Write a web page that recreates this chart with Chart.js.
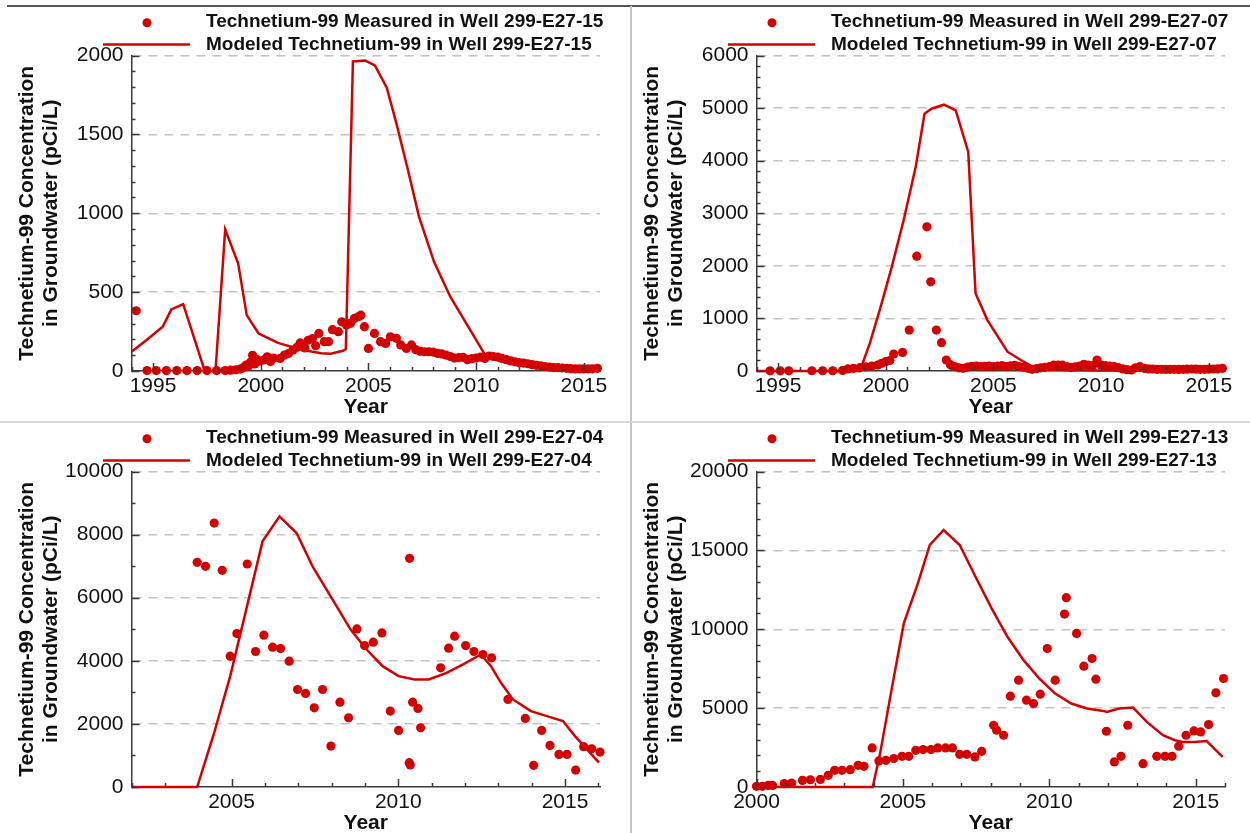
<!DOCTYPE html>
<html>
<head>
<meta charset="utf-8">
<title>Technetium-99 in Groundwater</title>
<script src="https://cdn.jsdelivr.net/npm/chart.js@4.4.1/dist/chart.umd.min.js"></script>
<style>
  html, body { margin: 0; padding: 0; background: #fff; }
  #sheet { position: relative; width: 1250px; height: 833px; overflow: hidden; }
  #sheet canvas { position: absolute; }
  .rule { position: absolute; }
</style>
</head>
<body>
<div id="sheet">
  <canvas id="c1" width="625" height="416" style="left:0;top:0"></canvas>
  <canvas id="c2" width="625" height="416" style="left:625px;top:0"></canvas>
  <canvas id="c3" width="625" height="416" style="left:0;top:416px"></canvas>
  <canvas id="c4" width="625" height="416" style="left:625px;top:416px"></canvas>
  <div class="rule" style="left:7px;top:5px;width:1243px;height:2px;background:#555"></div>
  <div class="rule" style="left:630px;top:6px;width:2px;height:827px;background:#c4c4c4"></div>
  <div class="rule" style="left:0;top:421px;width:1250px;height:2px;background:#d6d6d6"></div>
</div>
<script>
// well names, one per panel
const wells = ['299-E27-15', '299-E27-07', '299-E27-04', '299-E27-13'];

// ---- 299-E27-15 ----
const p1MeasYear = [1994.22, 1994.72, 1995.15, 1995.62, 1996.1, 1996.57, 1997.05, 1997.5, 1997.95, 1998.35,
  1998.6, 1998.85, 1999.05, 1999.2, 1999.32, 1999.42, 1999.52, 1999.62, 1999.72, 1999.82, 1999.95,
  2000.15, 2000.3, 2000.45, 2000.6, 2000.9, 2001.1, 2001.3, 2001.5, 2001.68, 2001.83, 2002.05, 2002.2,
  2002.4, 2002.55, 2002.7, 2002.95, 2003.15, 2003.33, 2003.6, 2003.76, 2003.98, 2004.17, 2004.35,
  2004.55, 2004.65, 2004.81, 2005.0, 2005.28, 2005.56, 2005.8, 2006.02, 2006.3, 2006.5, 2006.76,
  2007.0, 2007.2, 2007.4, 2007.6, 2007.8, 2008.0, 2008.2, 2008.4, 2008.6, 2008.8, 2009.0, 2009.2,
  2009.4, 2009.6, 2009.8, 2010.0, 2010.2, 2010.4, 2010.6, 2010.8, 2011.0, 2011.2, 2011.4, 2011.6,
  2011.8, 2012.0, 2012.2, 2012.4, 2012.6, 2012.8, 2013.0, 2013.2, 2013.4, 2013.6, 2013.8, 2014.0,
  2014.2, 2014.4, 2014.6, 2014.8, 2015.0, 2015.2, 2015.4, 2015.63];
const p1MeasVal = [382, 3, 3, 3, 3, 3, 3, 3, 3, 3,
  5, 8, 12, 22, 38, 30, 55, 100, 45, 72, 62,
  70, 90, 60, 82, 80, 101, 112, 133, 150, 178, 146, 195,
  205, 160, 238, 186, 186, 262, 249, 312, 291, 302, 333,
  345, 354, 281, 143, 238, 186, 175, 217, 207, 165, 143,
  165, 135, 125, 122, 122, 120, 112, 108, 101, 92, 82, 85,
  86, 72, 78, 82, 88, 80, 95, 92, 88, 80, 72, 64,
  58, 53, 50, 46, 40, 36, 33, 28, 25, 22, 21, 19,
  17, 15, 13, 13, 13, 13, 14, 17];
const p1ModelYear = [1994.0, 1994.7, 1995.45, 1995.85, 1996.4, 1997.4, 1997.9, 1998.35, 1998.95, 1999.35,
  1999.9, 2000.8, 2001.9, 2002.8, 2003.25, 2003.85, 2003.95, 2004.28, 2004.85, 2005.3, 2005.85, 2006.3,
  2006.8, 2007.35, 2008.05, 2008.8, 2009.7, 2010.4, 2010.7, 2011.5, 2012.5, 2013.5, 2014.5, 2015.7];
const p1ModelVal = [122, 196, 281, 390, 424, 0, 0, 897, 682, 354,
  238, 178, 135, 112, 110, 130, 140, 1962, 1968, 1937, 1796, 1568,
  1293, 977, 690, 471, 265, 105, 80, 55, 35, 22, 14, 10];
const p1XTicks = [1995, 2000, 2005, 2010, 2015];
const p1YTicks = [0, 500, 1000, 1500, 2000];

// ---- 299-E27-07 ----
const p2MeasYear = [1994.63, 1995.1, 1995.5, 1996.57, 1997.07, 1997.54, 1998.0, 1998.24, 1998.5, 1998.8,
  1999.07, 1999.35, 1999.63, 1999.81, 2000.0, 2000.19, 2000.37, 2000.78, 2001.09, 2001.44, 2001.91,
  2002.09, 2002.35, 2002.59, 2002.81, 2003.0, 2003.2, 2003.4, 2003.6, 2003.8, 2004.0, 2004.2, 2004.4,
  2004.6, 2004.8, 2005.0, 2005.2, 2005.4, 2005.6, 2005.8, 2006.0, 2006.2, 2006.4, 2006.6, 2006.8,
  2007.0, 2007.2, 2007.4, 2007.6, 2007.8, 2008.0, 2008.2, 2008.4, 2008.6, 2008.8, 2009.0, 2009.2,
  2009.4, 2009.6, 2009.81, 2010.0, 2010.2, 2010.4, 2010.6, 2010.8, 2011.0, 2011.2, 2011.4, 2011.6,
  2011.8, 2012.0, 2012.2, 2012.4, 2012.6, 2012.8, 2013.0, 2013.2, 2013.4, 2013.6, 2013.8, 2014.0,
  2014.2, 2014.4, 2014.6, 2014.8, 2015.0, 2015.2, 2015.4, 2015.63];
const p2MeasVal = [3, 3, 3, 5, 5, 5, 10, 40, 50, 63,
  80, 95, 114, 146, 177, 200, 323, 354, 779, 2184, 2741,
  1696, 779, 538, 209, 120, 85, 60, 51, 75, 90, 95, 82,
  90, 95, 82, 95, 101, 82, 100, 108, 82, 70, 50, 32,
  45, 60, 70, 82, 110, 114, 110, 82, 65, 80, 95, 125,
  110, 101, 209, 114, 101, 95, 82, 63, 40, 25, 19, 60,
  82, 51, 40, 38, 32, 32, 30, 32, 32, 30, 32, 34,
  38, 34, 32, 32, 34, 38, 40, 51];
const p2ModelYear = [1994.0, 1998.8, 1999.26, 1999.72, 2000.28, 2000.83, 2001.39, 2001.8, 2002.13, 2002.7,
  2003.25, 2003.83, 2004.17, 2004.72, 2005.65, 2006.4, 2006.95, 2007.5, 2010.0, 2015.7];
const p2ModelVal = [0, 0, 525, 1158, 1981, 2868, 3880, 4893, 4988, 5064,
  4956, 4165, 1475, 968, 367, 177, 51, 19, 10, 5];
const p2XTicks = [1995, 2000, 2005, 2010, 2015];
const p2YTicks = [0, 1000, 2000, 3000, 4000, 5000, 6000];

// ---- 299-E27-04 ----
const p3MeasYear = [2003.97, 2004.22, 2004.48, 2004.72, 2004.96, 2005.16, 2005.47, 2005.72, 2005.97, 2006.23,
  2006.47, 2006.73, 2006.98, 2007.22, 2007.48, 2007.73, 2007.98, 2008.25, 2008.51, 2008.76, 2008.99,
  2009.25, 2009.51, 2009.76, 2010.01, 2010.34, 2010.33, 2010.36, 2010.43, 2010.59, 2010.67, 2011.27,
  2011.51, 2011.69, 2012.02, 2012.27, 2012.54, 2012.8, 2013.29, 2013.81, 2014.06, 2014.3, 2014.55,
  2014.82, 2015.06, 2015.32, 2015.56, 2015.8, 2016.05];
const p3MeasVal = [7121, 6995, 8366, 6868, 4146, 4864, 7068, 4294, 4811, 4431,
  4389, 3988, 3091, 2965, 2511, 3091, 1298, 2690, 2194, 5011, 4484,
  4589, 4885, 2405, 1793, 7248, 770, 700, 2690, 2490, 1878, 3777,
  4400, 4779, 4484, 4294, 4199, 4093, 2775, 2173, 686, 1793, 1319,
  1034, 1034, 538, 1277, 1213, 1108];
const p3ModelYear = [2002.0, 2003.97, 2004.48, 2004.96, 2005.44, 2005.93, 2006.44, 2006.95, 2007.43, 2008.09,
  2008.57, 2009.05, 2009.53, 2010.01, 2010.49, 2010.91, 2011.45, 2011.93, 2012.48, 2012.78, 2013.08,
  2013.44, 2013.98, 2014.46, 2014.94, 2015.3, 2015.66, 2016.02];
const p3ModelVal = [0, 0, 1720, 3513, 5623, 7786, 8577, 8050, 6995, 5834,
  4990, 4357, 3830, 3513, 3408, 3408, 3619, 3882, 4199, 3830, 3302,
  2775, 2405, 2247, 2089, 1614, 1192, 770];
const p3XTicks = [2005, 2010, 2015];
const p3YTicks = [0, 2000, 4000, 6000, 8000, 10000];

// ---- 299-E27-13 ----
const p4MeasYear = [2000.0, 2000.2, 2000.4, 2000.55, 2000.95, 2001.2, 2001.57, 2001.84, 2002.18, 2002.45,
  2002.67, 2002.92, 2003.2, 2003.47, 2003.67, 2003.95, 2004.18, 2004.42, 2004.69, 2004.97, 2005.2,
  2005.44, 2005.69, 2005.96, 2006.19, 2006.46, 2006.69, 2006.94, 2007.18, 2007.46, 2007.69, 2008.1,
  2008.2, 2008.44, 2008.67, 2008.95, 2009.22, 2009.46, 2009.69, 2009.93, 2010.2, 2010.52, 2010.58,
  2010.93, 2011.18, 2011.46, 2011.59, 2011.95, 2012.22, 2012.45, 2012.68, 2013.2, 2013.67, 2013.95,
  2014.19, 2014.42, 2014.67, 2014.94, 2015.17, 2015.44, 2015.69, 2015.95];
const p4MeasVal = [40, 40, 100, 100, 220, 250, 420, 460, 480, 740,
  1060, 1060, 1100, 1375, 1312, 2476, 1650, 1693, 1799, 1947, 1947,
  2328, 2370, 2370, 2476, 2476, 2476, 2074, 2074, 1904, 2264, 3915,
  3597, 3280, 5756, 6771, 5502, 5290, 5883, 8781, 6771, 10961, 12000,
  9734, 7660, 8147, 6835, 3534, 1587, 1947, 3915, 1481, 1947, 1947,
  1947, 2582, 3280, 3555, 3491, 3957, 5967, 6877];
const p4ModelYear = [2000.0, 2003.97, 2004.22, 2004.63, 2005.03, 2005.51, 2005.92, 2006.39, 2006.94, 2007.48,
  2008.03, 2008.57, 2009.12, 2009.66, 2010.2, 2010.75, 2011.29, 2011.84, 2011.97, 2012.38, 2012.86,
  2013.33, 2013.88, 2014.29, 2014.56, 2014.97, 2015.37, 2015.92];
const p4ModelVal = [0, 0, 2116, 6348, 10368, 12908, 15341, 16293, 15341, 13331,
  11321, 9522, 8041, 6877, 5925, 5290, 4973, 4824, 4761, 4973, 5036,
  4126, 3280, 2962, 2857, 2857, 2920, 1904];
const p4XTicks = [2000, 2005, 2010, 2015];
const p4YTicks = [0, 5000, 10000, 15000, 20000];

const RED = '#d40000';
const AXIS = '#3a3a3a';
const GRID = '#c2c2c2';
const FONT = '"Liberation Sans", Arial, Helvetica, sans-serif';

Chart.defaults.font.family = FONT;
Chart.defaults.color = '#111';

function pairs(xs, ys) {
  return xs.map((x, i) => ({ x: x, y: ys[i] }));
}

// inward major/minor tick marks plus the two-row key above the plot
const decor = {
  id: 'decor',
  afterDraw(chart, args, o) {
    const ctx = chart.ctx;
    const xs = chart.scales.x, ys = chart.scales.y;
    const area = chart.chartArea;
    ctx.save();
    ctx.strokeStyle = AXIS;
    ctx.lineWidth = 1.5;
    ctx.beginPath();
    const xMajor = xs.ticks.map(t => t.value);
    for (let k = Math.ceil(xs.min / o.xMinor); k * o.xMinor <= xs.max + 1e-9; k++) {
      const v = k * o.xMinor;
      const len = xMajor.some(m => Math.abs(m - v) < 1e-6) ? 8 : 4;
      const px = Math.round(xs.getPixelForValue(v)) + 0.5;
      ctx.moveTo(px, area.bottom);
      ctx.lineTo(px, area.bottom - len);
    }
    const yMajor = ys.ticks.map(t => t.value);
    for (let k = Math.ceil(ys.min / o.yMinor); k * o.yMinor <= ys.max + 1e-9; k++) {
      const v = k * o.yMinor;
      const len = yMajor.some(m => Math.abs(m - v) < 1e-6) ? 8 : 4;
      const py = Math.round(ys.getPixelForValue(v)) + 0.5;
      ctx.moveTo(area.left, py);
      ctx.lineTo(area.left + len, py);
    }
    ctx.stroke();

    // key
    ctx.fillStyle = RED;
    ctx.beginPath();
    ctx.arc(147, 22.7, 4.5, 0, Math.PI * 2);
    ctx.fill();
    ctx.strokeStyle = RED;
    ctx.lineWidth = 2.5;
    ctx.beginPath();
    ctx.moveTo(103, 44.5);
    ctx.lineTo(190, 44.5);
    ctx.stroke();
    ctx.fillStyle = '#111';
    ctx.font = 'bold 19px ' + FONT;
    ctx.textAlign = 'left';
    ctx.textBaseline = 'middle';
    ctx.fillText(o.meas, 206, 22);
    ctx.fillText(o.model, 206, 45);
    ctx.restore();
  }
};

function buildPanel(id, well, measX, measY, modelX, modelY, xMin, xMax, xTicks, yTicks, xMinor, yMinor) {
  return new Chart(document.getElementById(id), {
    type: 'scatter',
    data: {
      datasets: [
        {
          label: 'Technetium-99 Measured in Well ' + well,
          data: pairs(measX, measY),
          pointRadius: 4.6,
          pointBackgroundColor: RED,
          pointBorderWidth: 0,
          showLine: false,
          clip: false
        },
        {
          label: 'Modeled Technetium-99 in Well ' + well,
          data: pairs(modelX, modelY),
          showLine: true,
          pointRadius: 0,
          borderColor: RED,
          borderWidth: 2.5,
          tension: 0,
          fill: false,
          clip: false
        }
      ]
    },
    options: {
      responsive: false,
      animation: false,
      events: [],
      layout: { padding: { left: 0, top: 55.5, right: 25, bottom: 0 } },
      plugins: {
        legend: { display: false },
        tooltip: { enabled: false },
        decor: {
          xMinor: xMinor,
          yMinor: yMinor,
          meas: 'Technetium-99 Measured in Well ' + well,
          model: 'Modeled Technetium-99 in Well ' + well
        }
      },
      scales: {
        x: {
          type: 'linear',
          min: xMin,
          max: xMax,
          afterBuildTicks: s => { s.ticks = xTicks.map(v => ({ value: v })); },
          afterFit: s => { s.height = 45; },
          grid: { display: false, drawTicks: false },
          border: { color: AXIS, width: 1.5 },
          ticks: {
            autoSkip: false,
            maxRotation: 0,
            padding: 3,
            color: '#111',
            font: { size: 21 },
            callback: v => String(v)
          },
          title: {
            display: true,
            text: 'Year',
            color: '#111',
            padding: 0,
            font: { size: 21, weight: 'bold', lineHeight: 0.8 }
          }
        },
        y: {
          min: 0,
          max: yTicks[yTicks.length - 1],
          afterBuildTicks: s => { s.ticks = yTicks.map(v => ({ value: v })); },
          afterFit: s => { s.width = 131.5; },
          grid: {
            drawTicks: false,
            lineWidth: 1.5,
            color: c => (c.tick && c.tick.value === 0) ? 'rgba(0,0,0,0)' : GRID
          },
          border: { color: AXIS, width: 1.5, dash: [9, 7] },
          ticks: {
            autoSkip: false,
            padding: 8,
            color: '#111',
            font: { size: 21 },
            callback: v => String(v)
          },
          title: {
            display: true,
            text: ['Technetium-99 Concentration', 'in Groundwater (pCi/L)'],
            color: '#111',
            padding: { top: 15, bottom: 0 },
            font: { size: 21, weight: 'bold', lineHeight: 1.143 }
          }
        }
      }
    },
    plugins: [decor]
  });
}

buildPanel('c1', wells[0], p1MeasYear, p1MeasVal, p1ModelYear, p1ModelVal, 1994, 2015.75, p1XTicks, p1YTicks, 1, 100);
buildPanel('c2', wells[1], p2MeasYear, p2MeasVal, p2ModelYear, p2ModelVal, 1994, 2015.75, p2XTicks, p2YTicks, 1, 200);
buildPanel('c3', wells[2], p3MeasYear, p3MeasVal, p3ModelYear, p3ModelVal, 2002, 2016.05, p3XTicks, p3YTicks, 1, 1000);
buildPanel('c4', wells[3], p4MeasYear, p4MeasVal, p4ModelYear, p4ModelVal, 2000, 2016, p4XTicks, p4YTicks, 1, 1000);
</script>
</body>
</html>
